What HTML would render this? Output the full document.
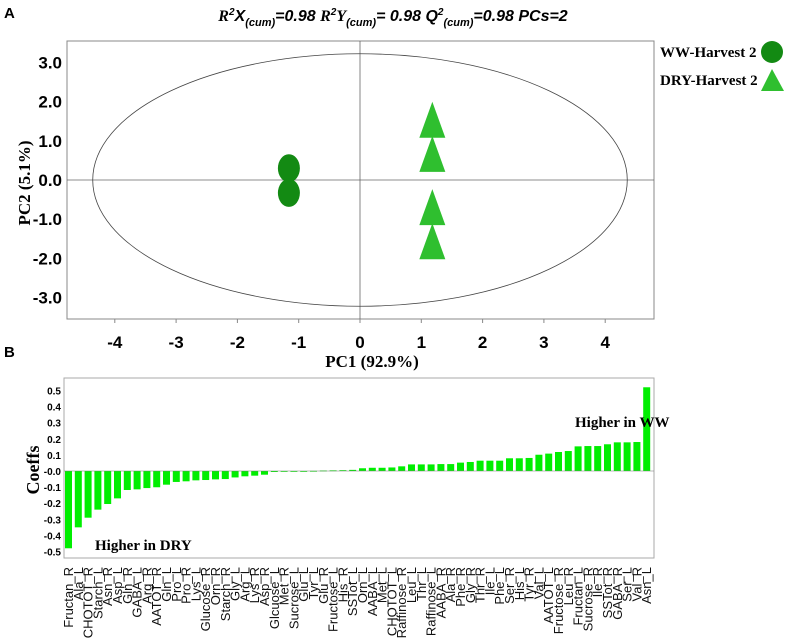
<!DOCTYPE html>
<html><head><meta charset="utf-8"><style>
body{margin:0;background:#fff;}
svg{display:block;}
.t{font-family:"Liberation Sans",sans-serif;font-weight:bold;}
.s{font-family:"Liberation Serif",serif;font-weight:bold;}
</style></head><body>
<svg id="fig" width="787" height="639" viewBox="0 0 787 639" xmlns="http://www.w3.org/2000/svg">
<text class="t" x="4" y="18" font-size="15">A</text>
<text class="t" x="4" y="357" font-size="15">B</text>
<text x="393" y="21" text-anchor="middle" font-size="16" font-style="italic" font-family="Liberation Sans,sans-serif" font-weight="bold"><tspan font-family="Liberation Serif,serif">R</tspan><tspan font-size="10" dy="-6">2</tspan><tspan dy="6">X</tspan><tspan font-size="11" dy="5">(cum)</tspan><tspan dy="-5">=0.98 </tspan><tspan font-family="Liberation Serif,serif">R</tspan><tspan font-size="10" dy="-6">2</tspan><tspan font-family="Liberation Serif,serif" dy="6">Y</tspan><tspan font-size="11" dy="5">(cum)</tspan><tspan dy="-5">= 0.98 Q</tspan><tspan font-size="10" dy="-6">2</tspan><tspan font-size="11" dy="11">(cum)</tspan><tspan dy="-5">=0.98 PCs=2</tspan></text>
<g id="pa"></g>
<g id="pb"></g>
<text class="s" x="660" y="57" font-size="15">WW-Harvest 2</text>
<circle cx="772" cy="52" r="11" fill="#138a13"/>
<text class="s" x="660" y="85" font-size="15">DRY-Harvest 2</text>
<polygon points="761,91 772,69 784,91" fill="#2fbf2f"/>
</svg>
<script>
const NS="http://www.w3.org/2000/svg";
function mk(p,t,a){const e=document.createElementNS(NS,t);for(const k in a)e.setAttribute(k,a[k]);p.appendChild(e);return e;}
// Panel A data
const wwX=[-1.16,-1.16];
const wwY=[0.3,-0.33];
const dryX=[1.18,1.18,1.18,1.18];
const dryY=[1.46,0.59,-0.77,-1.64];
const xTicksA=[-4,-3,-2,-1,0,1,2,3,4];
const yTicksA=[3,2,1,0,-1,-2,-3];
const ellipseA=[4.36,3.22];
const pa=document.getElementById('pa');
const ax=v=>360+v*61.3, ay=v=>180-v*39.2;
let e;
e=mk(pa,'rect',{x:67,y:41,width:587,height:278,fill:'none',stroke:'#888','stroke-width':1});


e=mk(pa,'line',{x1:67,x2:654,y1:ay(0),y2:ay(0),stroke:'#666','stroke-width':0.8});


e=mk(pa,'line',{x1:ax(0),x2:ax(0),y1:41,y2:319,stroke:'#666','stroke-width':0.8});


e=mk(pa,'ellipse',{cx:ax(0),cy:ay(0),rx:ellipseA[0]*61.3,ry:ellipseA[1]*39.2,fill:'none',stroke:'#444','stroke-width':0.8});


xTicksA.forEach(v=>{
 e=mk(pa,'text',{x:ax(v),y:348,'text-anchor':'middle','font-size':17,class:'t'});e.textContent=String(v);
 
 
 mk(pa,'line',{x1:ax(v),x2:ax(v),y1:319,y2:323,stroke:'#888'});
});
yTicksA.forEach(v=>{
 e=mk(pa,'text',{x:62,y:ay(v)+6,'text-anchor':'end','font-size':17,class:'t'});e.textContent=v.toFixed(1);
 
 
});
e=mk(pa,'text',{x:372,y:367,'text-anchor':'middle','font-size':17,class:'s'});e.textContent='PC1 (92.9%)';


e=mk(pa,'text',{x:0,y:0,'text-anchor':'middle','font-size':17,class:'s',transform:'translate(30,183) rotate(-90)'});e.textContent='PC2 (5.1%)';


wwX.forEach((x,i)=>{
 e=mk(pa,'ellipse',{cx:ax(x),cy:ay(wwY[i]),rx:11,ry:14,fill:'#138a13'});
 
 
});
dryX.forEach((x,i)=>{
 const cx=ax(x),cy=ay(dryY[i]);
 e=mk(pa,'polygon',{points:`${cx-13},${cy+15} ${cx},${cy-21} ${cx+13},${cy+15}`,fill:'#2fbf2f'});
 
 
});
// Panel B data
const cats=["Fructan_R","Ala_L","CHOTOT_R","Starch_L","Asn_R","Asp_L","Gln_R","GABA_L","Arg_R","AATOT_R","Gln_L","Pro_L","Pro_R","Lys_L","Glucose_R","Orn_R","Starch_R","Gly_L","Arg_L","Lys_R","Asp_R","Glcuose_L","Met_R","Sucrose_L","Glu_L","Tyr_L","Glu_R","Fructose_L","His_R","SSTot_L","Orn_L","AABA_L","Met_L","CHOTOT_L","Raffinose_R","Leu_L","Thr_L","Raffinose_L","AABA_R","Ala_R","Phe_R","Gly_R","Thr_R","Ile_L","Phe_L","Ser_R","His_L","Tyr_R","Val_L","AATOT_L","Fructose_R","Leu_R","Fructan_L","Sucrose_R","Ile_R","SSTot_R","GABA_R","Ser_L","Val_R","Asn_L"];
const coeffs=[-0.48,-0.35,-0.29,-0.24,-0.205,-0.17,-0.118,-0.114,-0.106,-0.101,-0.085,-0.068,-0.064,-0.058,-0.056,-0.052,-0.05,-0.04,-0.033,-0.029,-0.023,-0.006,-0.004,-0.001,0,0.001,0.003,0.004,0.005,0.007,0.017,0.02,0.02,0.022,0.029,0.041,0.041,0.041,0.043,0.043,0.052,0.056,0.064,0.064,0.064,0.079,0.079,0.081,0.101,0.108,0.118,0.124,0.153,0.155,0.155,0.166,0.178,0.178,0.18,0.52];
const yTicksB=[0.5,0.4,0.3,0.2,0.1,0,-0.1,-0.2,-0.3,-0.4,-0.5];
const yTickLabelsB=["0.5","0.4","0.3","0.2","0.1","-0.0","-0.1","-0.2","-0.3","-0.4","-0.5"];
const pb=document.getElementById('pb');
const by=v=>471-v*161, bx=i=>65+i*9.8;
e=mk(pb,'rect',{x:64,y:378,width:590,height:180,fill:'none',stroke:'#aaa','stroke-width':1});


yTicksB.forEach((v,i)=>{
 e=mk(pb,'text',{x:61,y:by(v)+4,'text-anchor':'end','font-size':10,class:'t'});e.textContent=yTickLabelsB[i];
 
 
});
coeffs.forEach((v,i)=>{
 const y0=by(0),y1=by(v);
 e=mk(pb,'rect',{x:bx(i),y:Math.min(y0,y1),width:7,height:Math.max(Math.abs(y1-y0),0.8),fill:'#00ee00'});
 
 
 e=mk(pb,'text',{x:0,y:0,'text-anchor':'end','font-size':13,'font-family':'Liberation Sans,sans-serif',fill:'#111',transform:`translate(${bx(i)+8},567) rotate(-90)`});e.textContent=cats[i];
 
 
});
e=mk(pb,'line',{x1:64,x2:654,y1:by(0),y2:by(0),stroke:'#777','stroke-width':0.6});


e=mk(pb,'text',{x:0,y:0,'text-anchor':'middle','font-size':18,class:'s',transform:'translate(39,470) rotate(-90)'});e.textContent='Coeffs';


e=mk(pb,'text',{x:575,y:427,'font-size':15,class:'s'});e.textContent='Higher in WW';


e=mk(pb,'text',{x:95,y:550,'font-size':15,class:'s'});e.textContent='Higher in DRY';


</script>
</body></html>
